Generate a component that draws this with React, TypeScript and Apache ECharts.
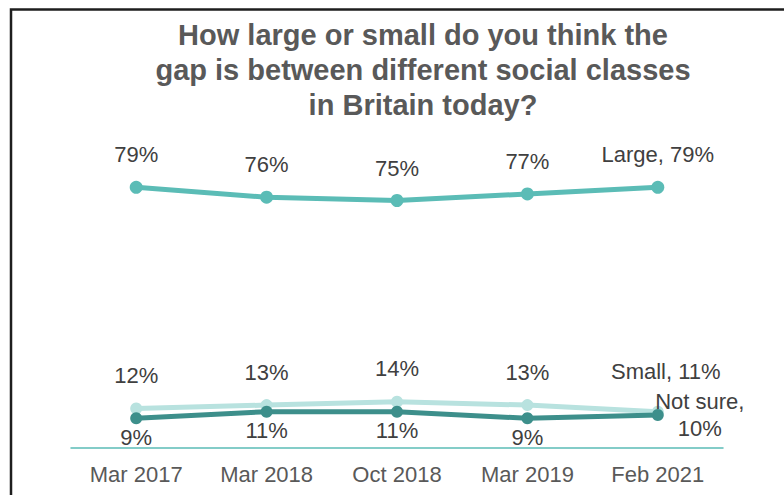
import React, { useEffect, useRef } from "react";
import * as echarts from "echarts";

const categories = ["Mar 2017", "Mar 2018", "Oct 2018", "Mar 2019", "Feb 2021"];
const largeValues = [79, 76, 75, 77, 79];
const smallValues = [12, 13, 14, 13, 11];
const notSureValues = [9, 11, 11, 9, 10];
const titleText = "How large or small do you think the\ngap is between different social classes\nin Britain today?";

export default function App() {
  const ref = useRef<HTMLDivElement>(null);
  useEffect(() => {
    if (!ref.current) return;
    const chart = echarts.init(ref.current, undefined, { renderer: "svg" });
    const labelColor = "#404040";
    const font = "Liberation Sans, Arial, sans-serif";
    const last = categories.length - 1;
    const mk = (vals: number[], lastLabel: any, pos: string, dist: number) =>
      vals.map((v, i) =>
        i === last
          ? { value: v, label: lastLabel }
          : { value: v }
      );
    chart.setOption({
      animation: false,
      backgroundColor: "#ffffff",
      title: {
        text: titleText,
        left: 418,
        top: 12,
        textAlign: "center",
        textStyle: {
          fontFamily: font,
          fontSize: 29,
          fontWeight: "bold",
          color: "#595959",
          lineHeight: 35,
        },
      },
      graphic: [
        {
          type: "rect",
          shape: { x: 11, y: 9.5, width: 820, height: 520 },
          style: { fill: "none", stroke: "#1e1e1e", lineWidth: 2.5 },
          silent: true,
        },
      ],
      grid: { left: 71, right: 61, top: 118, bottom: 47 },
      xAxis: {
        type: "category",
        data: categories,
        boundaryGap: true,
        axisLine: { lineStyle: { color: "#5BBCB6", width: 1.5 } },
        axisTick: { show: false },
        axisLabel: {
          color: "#595959",
          fontFamily: font,
          fontSize: 22,
          margin: 15,
        },
      },
      yAxis: {
        type: "value",
        min: 0,
        max: 100,
        show: false,
        splitLine: { show: false },
      },
      series: [
        {
          name: "Large",
          type: "line",
          data: mk(largeValues, { formatter: "Large, {c}%" }, "top", 15),
          symbol: "circle",
          symbolSize: 13,
          lineStyle: { color: "#5BBCB6", width: 5 },
          itemStyle: { color: "#5BBCB6" },
          label: {
            show: true,
            position: "top",
            distance: 15,
            formatter: "{c}%",
            color: labelColor,
            fontFamily: font,
            fontSize: 22,
          },
        },
        {
          name: "Small",
          type: "line",
          data: mk(
            smallValues,
            { formatter: "Small, {c}%", distance: 23, offset: [8, 0] },
            "top",
            16
          ),
          symbol: "circle",
          symbolSize: 12,
          lineStyle: { color: "#B8E2DF", width: 5 },
          itemStyle: { color: "#B8E2DF" },
          label: {
            show: true,
            position: "top",
            distance: 16,
            formatter: "{c}%",
            color: labelColor,
            fontFamily: font,
            fontSize: 22,
          },
        },
        {
          name: "Not sure",
          type: "line",
          data: mk(
            notSureValues,
            {
              formatter: "Not sure,\n{c}%",
              position: "right",
              distance: 36,
              align: "center",
              lineHeight: 27,
            },
            "bottom",
            3
          ),
          symbol: "circle",
          symbolSize: 12,
          lineStyle: { color: "#3D8F8B", width: 5 },
          itemStyle: { color: "#3D8F8B" },
          label: {
            show: true,
            position: "bottom",
            distance: 2,
            formatter: "{c}%",
            color: labelColor,
            fontFamily: font,
            fontSize: 22,
          },
        },
      ],
    });
    return () => chart.dispose();
  }, []);
  return (
    <div
      ref={ref}
      style={{ position: "fixed", left: 0, top: 0, width: 784, height: 495 }}
    />
  );
}
